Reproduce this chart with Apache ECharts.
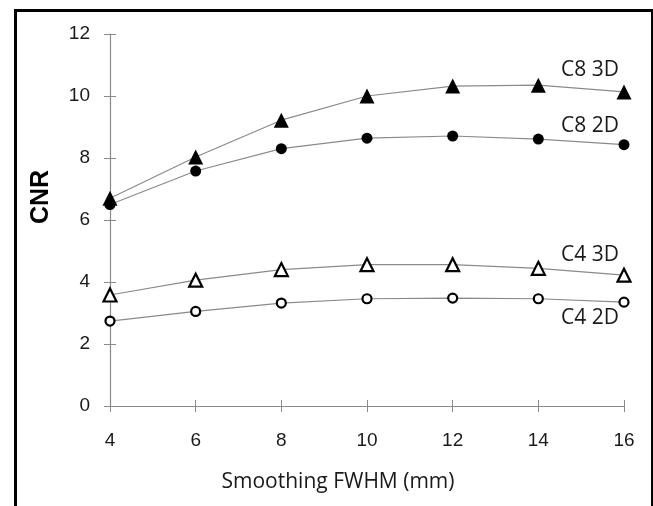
<!DOCTYPE html>
<html>
<head>
<meta charset="utf-8">
<script src="https://cdn.jsdelivr.net/npm/echarts@6/dist/echarts.min.js"></script>
<style>
  html, body { margin: 0; padding: 0; background: #fff; }
  #frame { position: absolute; left: 14px; top: 9px; width: 634px; height: 530px; border: 3px solid #000; }
  #chart { position: absolute; left: 0; top: 0; width: 653px; height: 506px; }
</style>
</head>
<body>
<div id="frame"></div>
<div id="chart"></div>
<script>
// smoothing FWHM (mm)
var fwhm = [4, 6, 8, 10, 12, 14, 16];
var c8_3d = [6.7, 8.03, 9.22, 10.0, 10.32, 10.35, 10.13];
var c8_2d = [6.5, 7.58, 8.3, 8.64, 8.71, 8.61, 8.43];
var c4_3d = [3.58, 4.06, 4.4, 4.56, 4.56, 4.44, 4.22];
var c4_2d = [2.74, 3.05, 3.32, 3.46, 3.48, 3.46, 3.35];
var yTicks = [0, 2, 4, 6, 8, 10, 12];

function pairs(vals) {
  return fwhm.map(function (x, i) { return [x, vals[i]]; });
}

var myChart = echarts.init(document.getElementById('chart'));

var lineColor = '#8a8a8a';
var tickFont = { color: '#1a1a1a', fontSize: 19, fontFamily: 'Liberation Sans' };

function serie(name, vals, symbol, size, hollow, off) {
  return {
    name: name,
    type: 'line',
    data: pairs(vals),
    symbol: symbol,
    symbolSize: size,
    showSymbol: true,
    animation: false,
    lineStyle: { color: lineColor, width: 1.2 },
    itemStyle: hollow
      ? { color: '#fff', borderColor: '#000', borderWidth: 2.2 }
      : { color: '#000', borderColor: '#000', borderWidth: 0 },
    endLabel: {
      show: true,
      formatter: name,
      offset: off,
      align: 'center',
      verticalAlign: 'middle',
      color: '#1a1a1a',
      fontSize: 21,
      fontFamily: 'Open Sans'
    }
  };
}

option = {
  backgroundColor: 'transparent',
  grid: { left: 110, right: 29, top: 34, bottom: 100 },
  xAxis: [
    {
      type: 'value',
      min: 4, max: 16, interval: 2,
      splitLine: { show: false },
      axisLine: { lineStyle: { color: lineColor, width: 1.2 } },
      axisTick: { length: 6, lineStyle: { color: lineColor } },
      axisLabel: Object.assign({ margin: 25 }, tickFont),
      name: 'Smoothing FWHM (mm)',
      nameLocation: 'middle',
      nameGap: 66,
      nameTextStyle: { color: '#1a1a1a', fontSize: 21, fontFamily: 'Open Sans', padding: [0, 58, 0, 0] }
    },
    {
      type: 'value',
      position: 'bottom',
      min: 4, max: 16, interval: 2,
      splitLine: { show: false },
      axisLine: { show: false },
      axisTick: { inside: true, length: 6, lineStyle: { color: lineColor } },
      axisLabel: { show: false }
    }
  ],
  yAxis: [
    {
      type: 'value',
      min: yTicks[0], max: yTicks[yTicks.length - 1], interval: 2,
      splitLine: { show: false },
      axisLine: { show: true, lineStyle: { color: lineColor, width: 1.2 } },
      axisTick: { show: true, length: 6, lineStyle: { color: lineColor } },
      axisLabel: Object.assign({ margin: 20 }, tickFont),
      name: 'CNR',
      nameLocation: 'middle',
      nameGap: 56,
      nameTextStyle: { color: '#000', fontSize: 25, fontWeight: 'bold', fontFamily: 'Liberation Sans', padding: [0, 0, 0, 46] }
    },
    {
      type: 'value',
      position: 'left',
      min: 0, max: 12, interval: 2,
      splitLine: { show: false },
      axisLine: { show: false },
      axisTick: { show: true, inside: true, length: 6, lineStyle: { color: lineColor } },
      axisLabel: { show: false }
    }
  ],
  series: [
    serie('C8 3D', c8_3d, 'triangle', 15, false, [-42, -22]),
    serie('C8 2D', c8_2d, 'circle', 11, false, [-42, -19]),
    serie('C4 3D', c4_3d, 'triangle', 13, true, [-42, -20]),
    serie('C4 2D', c4_2d, 'circle', 9, true, [-42, 16])
  ]
};

myChart.setOption(option);
</script>
</body>
</html>
